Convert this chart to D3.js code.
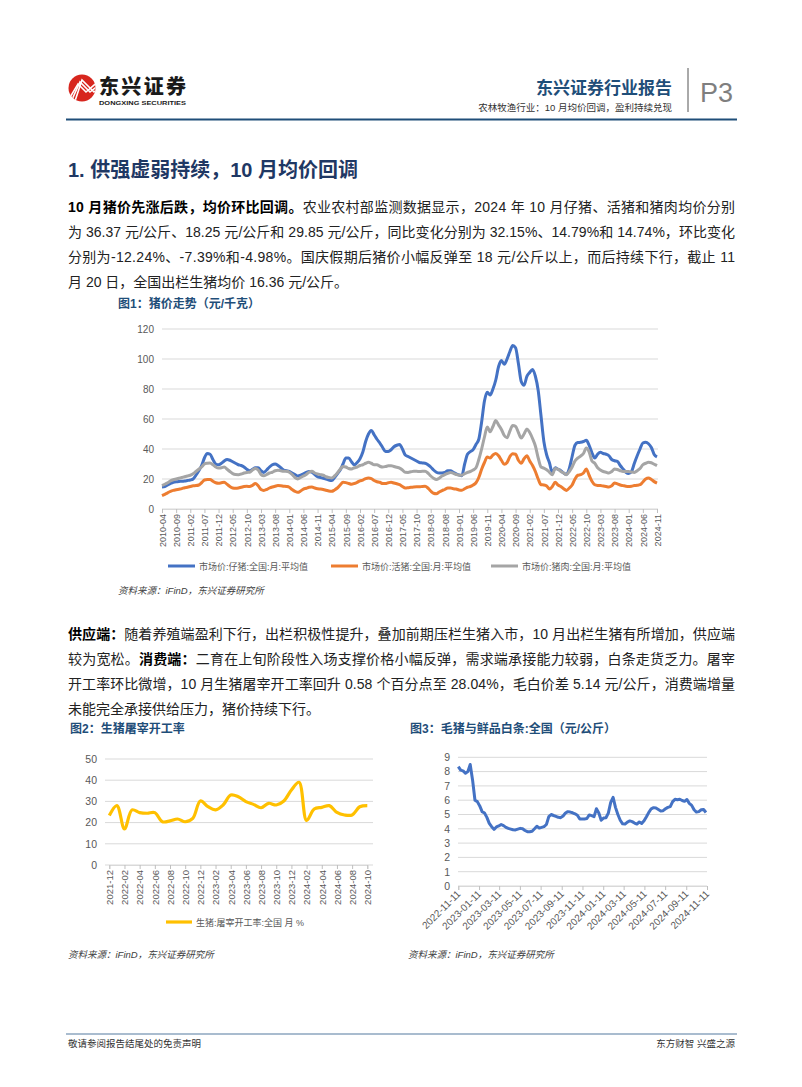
<!DOCTYPE html>
<html><head><meta charset="utf-8">
<script src="https://cdn.jsdelivr.net/npm/d3@7"></script>
<style>body{margin:0;background:#fff}svg{display:block}</style>
</head><body><svg id="c" width="802" height="1087"></svg>
<script>
// ---------- DATA ----------
// Chart 1: monthly 2010-04 .. 2024-11 (元/千克)
const piglet = [
14.7,15,16,17,17.8,18.2,18.4,18.5,18.7,
19,19.3,20,22.5,25.5,29,34,37,36.5,33,30,29.5,
30.5,32,33,32.5,31.5,30.5,29.5,29,28,26.5,25.5,26.5,
27.5,27.5,25.5,24.4,26,28,29.5,30,29,27.5,26,25.5,
25,24,23,22,22.5,23.5,24.4,25,24.5,23,21.5,21,
20.5,20,19.3,19,21,23.5,26,30,34,34,31.5,29.5,
31,33.5,38,45,50,52.4,49.5,46.5,44,41,38.4,38.4,
39.5,41.5,42.5,43,40,36,35,34,33,32,31,30.7,
30.5,29.5,28,26,24.5,24,24,24.4,25.5,25.5,24.5,23.5,
22.7,22.2,30,36.5,38.2,39.6,43,46.5,58,72,77.8,76,
80,86,95,99,96.5,100,105,109,107.5,97,85,82.5,
88.4,91,93,88.5,79,62,45,36,30.7,24,27.5,26.5,
25.5,24,23,27,35,42.5,44.3,44.5,45,45.8,42.5,37.5,
34,36.5,37.8,37,36.5,35.5,33,32.2,31.8,29,26.7,24.5,
23.6,25,30.5,35.5,40,44,44.5,43.5,41,36.37,34.7];
const hog = [
8.9,9.8,10.8,11.8,12.4,12.8,13.2,13.6,14.2,
14.5,15,15.5,15.6,16,17.5,19.3,19.6,19.6,18.5,17.5,17.2,
17.5,17.8,16.5,15,14,13.8,14,14.5,15,15.1,15,15.8,
17,15.5,13,12.4,13,14,14.7,15.2,15.6,15.5,15.2,15,
14.5,13,11.8,11.1,12,13.3,13.8,14.5,14.7,14,13.5,13.3,
13,12.5,12,11.8,12.7,14,16,17.8,17.6,17,16.5,17,
17.8,18.8,19.3,20.3,20.7,20.3,19,18.2,17.8,17,17,17.5,
17.8,17.3,16.8,16.2,15,14,14.2,14.5,14.7,14.8,14.8,15,
15.1,14,12,10.5,10.2,11.3,12.3,13,14,14,13.5,13.3,
12.7,12.5,13.5,14.5,15,16,17.5,21,26.5,31,34.7,34,
36,37,35.5,32.5,29.8,31,35,36.9,36.5,32.5,30.5,33.5,
35.5,32,29,25,20,16.2,16,15.3,13.3,15,17.8,16,
15,13.5,12.4,14,16,20,22.5,22.9,24,26.7,22.5,18.5,
16.2,15.7,15.6,15.3,15,14.7,15.5,17.3,16.8,16,15.6,15.2,
15,15.2,15.6,15.8,16.2,18,20,20.7,19.7,18.25,17.3];
const pork = [
15.6,16.5,17.5,18.7,19.5,20,20.5,21,21.5,
22,22.5,23.5,25,26.5,28,30,30.5,30.7,29.5,28,27.3,
27.5,28,26.5,25,23.6,23,22.9,23.3,24,24.4,24.5,26,
27,26,23,22.2,23,24,24.5,25.5,25.8,25.5,25.2,25.1,
24.5,23,21,20,21,22,23,24.5,25.1,24,23.3,22.9,
22.5,21.5,21,20.7,22,24,26.5,28.4,28,27,26.7,27.5,
28,29,29.5,30.5,31.1,30.5,29.5,29.5,28.5,28,28.3,28.8,
28.9,28.3,27.8,27.3,26,24.5,24.4,24.8,25.1,25.1,25,25.1,
25.1,24,22,20.5,19.6,20.5,22,22.9,23.8,24.4,23.8,23,
22.5,22.5,23.5,24.4,25,26,27.5,33,40,48,54.7,51.5,
55,59,56,53,49,47.5,52,55.6,55.1,51,47.3,50,
53.3,51,47,42,34,28,27.3,26.2,24.5,22.9,27,26.5,
25,24,22.9,25,28,32,34,35.3,37,40.7,38,32,
30.5,27.5,26,25,24.5,24,25,26.7,26.3,25.5,25,25,
25,24.6,24.4,25.5,27,29.5,30.5,31.1,30.8,29.85,28.9];
const series1Names = ["市场价:仔猪:全国:月:平均值","市场价:活猪:全国:月:平均值","市场价:猪肉:全国:月:平均值"];
const yTicks1 = [0,20,40,60,80,100,120];

// Chart 2: monthly 2021-12 .. 2024-10 (%)
const slaughter = [23.3,28,17,26,24.7,24.4,24.7,20.4,20.8,21.7,20.4,22,
30.2,27.5,26,28.3,33,32.2,29.9,28.6,27,29.1,28.3,30.2,
35.4,39,21,26.4,27.2,28,24.8,23.6,23.6,27.46,28.04];
const yTicks2 = [0,10,20,30,40,50];

// Chart 3: weekly from 2022-11-11 (元/公斤)
const spread = [8.35,8.1,8.05,7.88,8.0,8.5,7.4,6.0,5.9,5.6,5.2,5.1,4.8,4.38,4.15,3.96,
4.13,4.2,4.3,4.22,4.1,4.03,3.98,3.93,3.92,3.98,4.03,4.0,3.88,3.8,3.8,3.83,
4.0,4.18,4.05,4.1,4.15,4.3,4.85,5.0,4.93,4.87,4.8,4.78,4.9,5.1,5.2,5.17,
5.12,5.05,4.95,4.69,4.69,4.69,4.72,4.97,4.92,4.85,5.4,5.1,4.6,4.75,4.77,5.1,
5.85,6.2,5.5,5.0,4.6,4.35,4.33,4.47,4.55,4.5,4.4,4.33,4.48,4.38,4.56,4.84,
5.15,5.4,5.48,5.45,5.35,5.25,5.27,5.4,5.5,5.55,5.9,6.06,6.03,6.07,5.98,5.92,
6.05,5.78,5.64,5.33,5.17,5.2,5.33,5.35,5.14];
const yTicks3 = [0,1,2,3,4,5,6,7,8,9];

// ---------- DRAW ----------
const svg = d3.select('#c');
const F = "'Liberation Sans','Noto Sans CJK SC',sans-serif";
const GRAY = '#595959', GRID = '#D9D9D9', NAVY = '#1F4E79';
svg.append('rect').attr('width',802).attr('height',1087).attr('fill','#fff');

// Header logo
const defs = svg.append('defs');
defs.append('clipPath').attr('id','lc').append('circle').attr('cx',82).attr('cy',88).attr('r',13.5);
svg.append('circle').attr('cx',82).attr('cy',88).attr('r',13.5).attr('fill','#D7261E');
const lg = svg.append('g').attr('clip-path','url(#lc)').attr('fill','none').attr('stroke','#fff').attr('stroke-width',1.6);
[0,4,8].forEach(o=>{
  lg.append('path').attr('d',`M${66+o},${104} L${78+o/2},${84-o/2} L${86+o},${92} L${100},${80+o}`);
});
svg.append('text').attr('x',99).attr('y',94).attr('font-family',"'Noto Sans CJK SC'").attr('font-weight',900)
  .attr('font-size',20).attr('fill','#1a1a1a').attr('textLength',87).text('东兴证券');
svg.append('text').attr('x',99).attr('y',105).attr('font-family',F).attr('font-weight',700)
  .attr('font-size',6).attr('fill','#1a1a1a').attr('textLength',87).attr('lengthAdjust','spacingAndGlyphs').text('DONGXING SECURITIES');

svg.append('text').attr('x',672).attr('y',94).attr('text-anchor','end').attr('font-family',"'Noto Sans CJK SC'")
  .attr('font-weight',700).attr('font-size',17).attr('fill',NAVY).text('东兴证券行业报告');
svg.append('text').attr('x',672).attr('y',111).attr('text-anchor','end').attr('font-family',F)
  .attr('font-size',9.5).attr('fill','#333').text('农林牧渔行业：10 月均价回调，盈利持续兑现');
svg.append('line').attr('x1',688).attr('x2',688).attr('y1',68).attr('y2',112).attr('stroke','#555').attr('stroke-width',1);
svg.append('text').attr('x',700).attr('y',102).attr('font-family',F).attr('font-size',27).attr('fill','#7f7f7f').text('P3');
svg.append('line').attr('x1',66).attr('x2',737).attr('y1',119.5).attr('y2',119.5).attr('stroke',NAVY).attr('stroke-width',2);

// Section heading
svg.append('text').attr('x',68).attr('y',177).attr('font-family',F).attr('font-weight',700)
  .attr('font-size',20).attr('fill','#1F3864').text('1. 供强虚弱持续，10 月均价回调');

// Paragraphs
function para(lines, y0){
  lines.forEach((ln,i)=>{
    const t = svg.append('text').attr('x',68).attr('y',y0+i*25).attr('font-family',F)
      .attr('font-size',14).attr('fill','#222');
    if(ln.full){ t.attr('textLength',667).attr('lengthAdjust','spacing'); }
    ln.parts.forEach(p=>{ t.append('tspan').attr('font-weight',p[1]?700:400).attr('fill',p[1]?'#000':'#222').text(p[0]); });
  });
}
para([
 {full:true,parts:[['10 月猪价先涨后跌，均价环比回调。',1],['农业农村部监测数据显示，2024 年 10 月仔猪、活猪和猪肉均价分别',0]]},
 {full:true,parts:[['为 36.37 元/公斤、18.25 元/公斤和 29.85 元/公斤，同比变化分别为 32.15%、14.79%和 14.74%，环比变化',0]]},
 {full:true,parts:[['分别为-12.24%、-7.39%和-4.98%。国庆假期后猪价小幅反弹至 18 元/公斤以上，而后持续下行，截止 11',0]]},
 {full:false,parts:[['月 20 日，全国出栏生猪均价 16.36 元/公斤。',0]]}
],212);
para([
 {full:true,parts:[['供应端：',1],['随着养殖端盈利下行，出栏积极性提升，叠加前期压栏生猪入市，10 月出栏生猪有所增加，供应端',0]]},
 {full:true,parts:[['较为宽松。',0],['消费端：',1],['二育在上旬阶段性入场支撑价格小幅反弹，需求端承接能力较弱，白条走货乏力。屠宰',0]]},
 {full:true,parts:[['开工率环比微增，10 月生猪屠宰开工率回升 0.58 个百分点至 28.04%，毛白价差 5.14 元/公斤，消费端增量',0]]},
 {full:false,parts:[['未能完全承接供给压力，猪价持续下行。',0]]}
],639);

function title(x,y,s){ svg.append('text').attr('x',x).attr('y',y).attr('font-family',F).attr('font-weight',700)
  .attr('font-size',12).attr('fill',NAVY).text(s); }
function source(x,y){ svg.append('text').attr('x',x).attr('y',y).attr('font-family',F).attr('font-style','italic')
  .attr('font-size',9.5).attr('fill','#404040').text('资料来源：iFinD，东兴证券研究所'); }
function styleAxis(g){ g.select('.domain').remove(); g.selectAll('text').attr('fill',GRAY).attr('font-family',F); }

// ---------- Chart 1 ----------
title(118,308,'图1：猪价走势（元/千克）');
const m1 = d3.timeMonth.range(new Date(2010,3,1), new Date(2024,11,1)).map(d3.timeFormat('%Y-%m'));
const x1 = d3.scalePoint().domain(m1).range([162,657]);
const y1 = d3.scaleLinear().domain([0,120]).range([509,329]);
const c1 = svg.append('g');
c1.selectAll('.g').data(yTicks1).join('line').attr('x1',162).attr('x2',658)
  .attr('y1',d=>y1(d)).attr('y2',d=>y1(d)).attr('stroke',GRID).attr('stroke-width',1);
c1.append('g').attr('transform','translate(162,0)').call(d3.axisLeft(y1).tickValues(yTicks1).tickSize(0).tickPadding(8))
  .call(styleAxis).selectAll('text').attr('font-size',10);
const ax1 = c1.append('g').attr('transform','translate(0,509)')
  .call(d3.axisBottom(x1).tickValues(m1.filter((d,i)=>i%5===0)).tickSize(4));
ax1.select('.domain').attr('stroke',GRID);
ax1.selectAll('line').attr('stroke','#BFBFBF');
ax1.selectAll('text').attr('transform','rotate(-90)').attr('text-anchor','end').attr('x',-5).attr('y',0)
  .attr('dy','0.35em').attr('fill',GRAY).attr('font-family',F).attr('font-size',9);
const colors1 = ['#4472C4','#ED7D31','#A5A5A5'];
[piglet,hog,pork].forEach((s,k)=>{
  c1.append('path').datum(s).attr('fill','none').attr('stroke',colors1[k]).attr('stroke-width',3)
    .attr('stroke-linejoin','round')
    .attr('d',d3.line().x((d,i)=>x1(m1[i])).y(d=>y1(d)).curve(d3.curveMonotoneX));
});
const leg1x = [168,331,491];
series1Names.forEach((n,k)=>{
  c1.append('line').attr('x1',leg1x[k]).attr('x2',leg1x[k]+27).attr('y1',566).attr('y2',566)
    .attr('stroke',colors1[k]).attr('stroke-width',3);
  c1.append('text').attr('x',leg1x[k]+31).attr('y',569.5).attr('font-family',F).attr('font-size',9)
    .attr('fill',GRAY).text(n);
});
source(118,594);

// ---------- Chart 2 ----------
title(70,733,'图2：生猪屠宰开工率');
const m2 = d3.timeMonth.range(new Date(2021,11,1), new Date(2024,10,1)).map(d3.timeFormat('%Y-%m'));
const x2 = d3.scalePoint().domain(m2).range([109.3,367.3]);
const y2 = d3.scaleLinear().domain([0,50]).range([865,759]);
const c2 = svg.append('g');
c2.selectAll('.g').data(yTicks2).join('line').attr('x1',105).attr('x2',373)
  .attr('y1',d=>y2(d)).attr('y2',d=>y2(d)).attr('stroke',GRID);
c2.append('g').attr('transform','translate(105,0)').call(d3.axisLeft(y2).tickValues(yTicks2).tickSize(0).tickPadding(8))
  .call(styleAxis).selectAll('text').attr('font-size',10.5);
const ax2 = c2.append('g').attr('transform','translate(0,865)')
  .call(d3.axisBottom(x2).tickValues(m2.filter((d,i)=>i%2===0)).tickSize(4));
ax2.select('.domain').attr('stroke',GRID);
ax2.selectAll('line').attr('stroke','#BFBFBF');
ax2.selectAll('text').attr('transform','rotate(-90)').attr('text-anchor','end').attr('x',-5).attr('y',0)
  .attr('dy','0.35em').attr('fill',GRAY).attr('font-family',F).attr('font-size',9.5);
c2.append('path').datum(slaughter).attr('fill','none').attr('stroke','#FFC000').attr('stroke-width',3.2)
  .attr('d',d3.line().x((d,i)=>x2(m2[i])).y(d=>y2(d)).curve(d3.curveCatmullRom.alpha(0.5)));
c2.append('line').attr('x1',166).attr('x2',192).attr('y1',922).attr('y2',922).attr('stroke','#FFC000').attr('stroke-width',3.2);
c2.append('text').attr('x',196).attr('y',925.5).attr('font-family',F).attr('font-size',9).attr('fill',GRAY)
  .text('生猪:屠宰开工率:全国 月 %');
source(68,958);

// ---------- Chart 3 ----------
title(410,733,'图3：毛猪与鲜品白条:全国（元/公斤）');
const t0 = new Date(2022,10,11), t1 = new Date(2024,10,11);
const dates3 = spread.map((d,i)=>d3.timeDay.offset(t0, i*7));
const x3 = d3.scaleTime().domain([t0,t1]).range([458.3,707]);
const y3 = d3.scaleLinear().domain([0,9]).range([886,757.3]);
const c3 = svg.append('g');
c3.selectAll('.g').data(yTicks3).join('line').attr('x1',458).attr('x2',707)
  .attr('y1',d=>y3(d)).attr('y2',d=>y3(d)).attr('stroke',GRID);
c3.append('g').attr('transform','translate(458,0)').call(d3.axisLeft(y3).tickValues(yTicks3).tickSize(0).tickPadding(8))
  .call(styleAxis).selectAll('text').attr('font-size',10.5);
const tv3 = d3.timeMonth.every(2).range(new Date(2022,10,1), new Date(2024,11,1)).map(d=>new Date(d.getFullYear(),d.getMonth(),11));
const ax3 = c3.append('g').attr('transform','translate(0,886)')
  .call(d3.axisBottom(x3).tickValues(tv3).tickFormat(d3.timeFormat('%Y-%m-%d')).tickSize(4));
ax3.select('.domain').attr('stroke',GRID);
ax3.selectAll('line').attr('stroke','#BFBFBF');
ax3.selectAll('text').attr('transform','translate(0,6) rotate(-45)').attr('text-anchor','end').attr('y',0).attr('dy','0.35em')
  .attr('fill',GRAY).attr('font-family',F).attr('font-size',10);
c3.append('path').datum(spread).attr('fill','none').attr('stroke','#4472C4').attr('stroke-width',3)
  .attr('stroke-linejoin','round')
  .attr('d',d3.line().x((d,i)=>x3(dates3[i])).y(d=>y3(d)));
source(408,958);

// Footer
svg.append('line').attr('x1',66).attr('x2',737).attr('y1',1034).attr('y2',1034).attr('stroke','#A9BCCF').attr('stroke-width',2);
svg.append('text').attr('x',68).attr('y',1047).attr('font-family',F).attr('font-size',9.5).attr('fill','#333').text('敬请参阅报告结尾处的免责声明');
svg.append('text').attr('x',735).attr('y',1047).attr('text-anchor','end').attr('font-family',F).attr('font-size',9.5).attr('fill','#333').text('东方财智 兴盛之源');
</script></body></html>
